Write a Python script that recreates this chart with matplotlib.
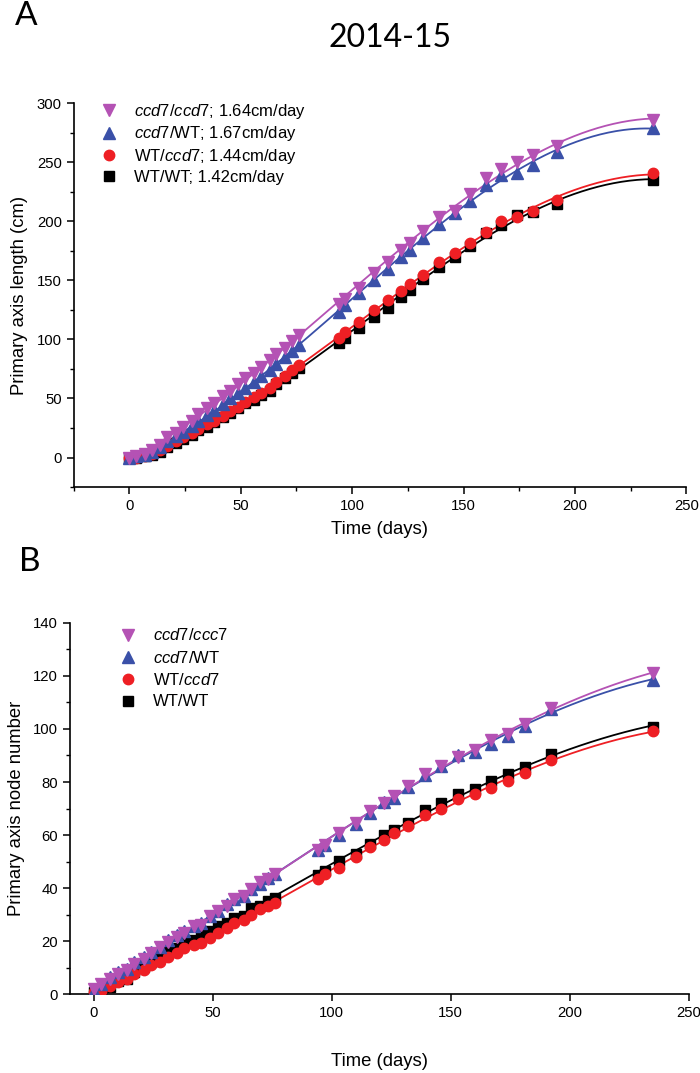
import matplotlib
matplotlib.use("Agg")
import matplotlib.pyplot as plt
import numpy as np

plt.rcParams['font.family'] = ['Liberation Sans', 'DejaVu Sans']
plt.rcParams['mathtext.fontset'] = 'custom'
plt.rcParams['mathtext.rm'] = 'Liberation Sans'
plt.rcParams['mathtext.it'] = 'Liberation Sans:italic'

# measurement days (shared by all series)
days = [0, 3, 7, 10, 14, 17, 21, 24, 28, 31, 35, 38, 42, 45, 49, 52, 56, 59, 63, 66,
        70, 73, 76, 94, 97, 103, 110, 116, 122, 126, 132, 139, 146, 153, 160, 167,
        174, 181, 192, 235]

# panel A: primary axis length (cm)
len_ccd7_ccd7 = [0, 1, 3, 6, 11, 17, 21, 26, 31, 37, 42, 46, 52, 56, 62, 67, 72, 77, 83, 88,
                 93, 99, 104, 130, 134, 144, 156, 166, 176, 182, 192, 204, 209, 223, 237, 244,
                 250, 256, 264, 286]
len_ccd7_wt = [0, 1, 2, 5, 9, 14, 18, 22, 27, 31, 36, 40, 45, 50, 55, 59, 64, 69, 74, 79,
               85, 90, 95, 123, 129, 139, 150, 160, 170, 176, 186, 198, 207, 217, 231, 239,
               241, 248, 259, 279]
len_wt_ccd7 = [0, 0, 1, 3, 6, 10, 14, 17, 21, 24, 28, 31, 35, 39, 43, 47, 51, 55, 59, 64,
               69, 74, 78, 101, 106, 115, 125, 133, 141, 147, 155, 166, 173, 182, 191, 200,
               204, 209, 218, 241]
len_wt_wt = [0, 0, 1, 2, 5, 9, 12, 16, 19, 23, 26, 30, 34, 38, 42, 46, 49, 53, 56, 62,
             67, 72, 76, 97, 101, 110, 119, 127, 136, 142, 151, 161, 170, 179, 190, 197,
             205, 208, 215, 235]

# panel B: primary axis node number
node_ccd7_ccd7 = [1.9, 3.8, 5.7, 7.7, 8.9, 11.5, 13.4, 15.3, 17.9, 19.8, 21.7, 23.0, 25.5, 26.2,
                  29.4, 31.3, 33.2, 35.7, 37.0, 39.6, 42.1, 43.4, 45.3, 54.2, 56.2, 60.6, 64.4,
                  68.9, 72.1, 74.7, 78.5, 83.0, 86.1, 89.3, 91.9, 95.7, 98.3, 102.0, 107.8, 121.2]
node_ccd7_wt = [1.3, 3.8, 6.4, 8.3, 9.6, 12.1, 14.0, 16.0, 17.9, 20.4, 22.3, 23.9, 25.5, 26.8,
                29.4, 31.5, 33.8, 35.7, 37.0, 39.6, 41.5, 43.8, 45.3, 54.2, 56.2, 60.0, 64.2,
                68.3, 72.4, 74.0, 78.2, 82.6, 86.1, 90.0, 91.5, 94.4, 97.4, 101.2, 107.6, 118.3]
node_wt_ccd7 = [0.9, 1.3, 2.9, 4.5, 5.7, 7.7, 8.9, 10.8, 12.1, 14.0, 15.3, 17.2, 18.5, 19.1,
                21.1, 23.0, 24.9, 26.8, 28.1, 30.0, 31.9, 33.2, 34.5, 43.4, 45.3, 47.6, 51.7,
                55.5, 58.1, 60.6, 63.4, 67.6, 69.8, 73.4, 75.3, 77.8, 80.4, 83.3, 88.4, 99.2]
node_wt_wt = [0.6, 1.3, 2.6, 5.1, 5.7, 8.3, 10.2, 12.1, 14.0, 16.0, 17.5, 19.1, 20.4, 22.3,
              23.6, 25.5, 26.8, 28.7, 29.4, 32.5, 33.2, 35.1, 36.4, 45.0, 46.6, 50.2, 53.0,
              56.5, 60.0, 61.9, 64.7, 69.3, 72.1, 75.3, 77.5, 80.4, 83.0, 85.5, 90.6, 100.8]

labels_a = [r'$\it{ccd7/ccd7}$; 1.64cm/day', r'$\it{ccd7}$/WT; 1.67cm/day',
            r'WT/$\it{ccd7}$; 1.44cm/day', 'WT/WT; 1.42cm/day']
labels_b = [r'$\it{ccd7/ccc7}$', r'$\it{ccd7}$/WT', r'WT/$\it{ccd7}$', 'WT/WT']

colors = ['#B452B4', '#3A50A8', '#EE1F24', '#000000']
markers = ['v', '^', 'o', 's']
msizes = [8.5, 8.5, 7.5, 6.8]


def draw_panel(ax, series):
    x = np.array(days, dtype=float)
    xf = np.linspace(0, 235, 200)
    handles = []
    # draw back to front: black, red, blue, magenta
    for i in [3, 2, 1, 0]:
        y = np.array(series[i], dtype=float)
        coef = np.polyfit(x, y, 3)
        ax.plot(xf, np.polyval(coef, xf), color=colors[i], lw=1.3, zorder=2)
        h, = ax.plot(x, y, linestyle='none', marker=markers[i], ms=msizes[i],
                     color=colors[i], mec=colors[i], zorder=3)
        handles.append((i, h))
    handles.sort()
    return [h for _, h in handles]


fig = plt.figure(figsize=(7, 10.73), dpi=100)

# ---- panel A ----
ax1 = fig.add_axes([0.1051, 0.5461, 0.8754, 0.3576])
hs = draw_panel(ax1, [len_ccd7_ccd7, len_ccd7_wt, len_wt_ccd7, len_wt_wt])
ax1.set_xlim(-25, 250)
ax1.set_ylim(-25, 300)
ax1.set_xticks(np.arange(0, 251, 50))
ax1.set_xticks(np.arange(-25, 251, 25), minor=True)
ax1.set_yticks(np.arange(0, 301, 50))
ax1.set_yticks(np.arange(-25, 301, 25), minor=True)
ax1.set_xlabel('Time (days)', fontsize=13.3, labelpad=6)
ax1.set_ylabel('Primary axis length (cm)', fontsize=13.3, labelpad=6)
ax1.legend(hs, labels_a, loc='upper left', bbox_to_anchor=(0.015, 1.03), frameon=False,
           fontsize=12, handletextpad=0.5, labelspacing=0.22, borderaxespad=0.2)

# ---- panel B ----
ax2 = fig.add_axes([0.1, 0.0736, 0.884, 0.3458])
hs = draw_panel(ax2, [node_ccd7_ccd7, node_ccd7_wt, node_wt_ccd7, node_wt_wt])
ax2.set_xlim(-10, 250)
ax2.set_ylim(0, 140)
ax2.set_xticks(np.arange(0, 251, 50))
ax2.set_yticks(np.arange(0, 141, 20))
ax2.set_yticks(np.arange(0, 141, 10), minor=True)
ax2.set_xlabel('Time (days)', fontsize=13.3, labelpad=24)
ax2.set_ylabel('Primary axis node number', fontsize=13.3, labelpad=6)
ax2.legend(hs, labels_b, loc='upper left', bbox_to_anchor=(0.05, 1.015), frameon=False,
           fontsize=12, handletextpad=0.5, labelspacing=0.38, borderaxespad=0.2)

for ax in (ax1, ax2):
    for side in ('top', 'right'):
        ax.spines[side].set_visible(False)
    for side in ('left', 'bottom'):
        ax.spines[side].set_linewidth(1.2)
    ax.tick_params(which='major', direction='out', length=5, width=1.1, labelsize=10.7)
    ax.tick_params(which='minor', direction='out', length=3, width=1.0)

fig.text(0.557, 0.965, '2014-15', fontsize=23, family=['Lato', 'DejaVu Sans'],
         ha='center', va='center')
fig.text(0.022, 0.985, 'A', fontsize=24, family=['Lato', 'DejaVu Sans'],
         ha='left', va='center')
fig.text(0.027, 0.476, 'B', fontsize=24, family=['Lato', 'DejaVu Sans'],
         ha='left', va='center')

fig.savefig('out.png', dpi=100)
